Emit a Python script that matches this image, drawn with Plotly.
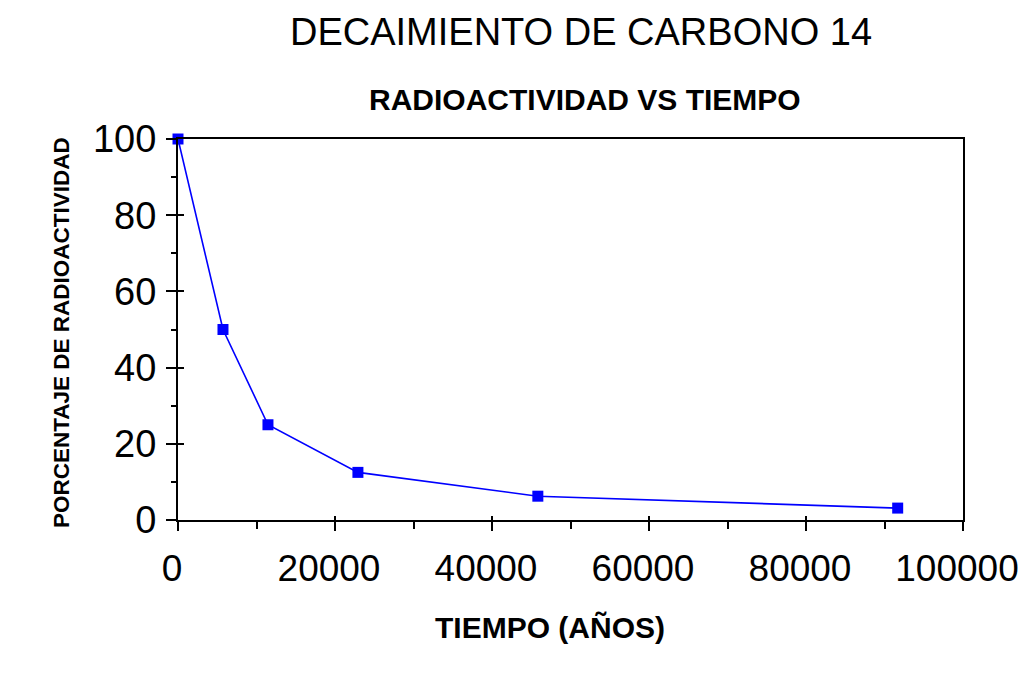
import plotly.graph_objects as go

tiempo = [0, 5730, 11460, 22920, 45840, 91680]
radioactividad = [100, 50, 25, 12.5, 6.25, 3.125]

x_ticks = [0, 20000, 40000, 60000, 80000, 100000]
y_ticks = [0, 20, 40, 60, 80, 100]

titulo = "DECAIMIENTO DE CARBONO 14"
subtitulo = "RADIOACTIVIDAD VS TIEMPO"
titulo_x = "TIEMPO (AÑOS)"
titulo_y = "PORCENTAJE DE RADIOACTIVIDAD"

FONT = "Liberation Sans, Arial, sans-serif"
BLUE = "#0000FF"

fig = go.Figure()
fig.add_trace(go.Scatter(
    x=tiempo, y=radioactividad, mode="lines+markers",
    line=dict(color=BLUE, width=1.6),
    marker=dict(symbol="square", size=11, color=BLUE),
    cliponaxis=False,
    showlegend=False, hoverinfo="x+y",
))
# empty trace so the overlay axes (inner half of crossing ticks) are drawn
fig.add_trace(go.Scatter(x=[], y=[], xaxis="x2", yaxis="y2", showlegend=False))

fig.update_layout(
    width=1024, height=698,
    margin=dict(l=178, r=61, t=139, b=178),
    paper_bgcolor="white", plot_bgcolor="white",
    font=dict(family=FONT, color="black"),
    title=dict(text=titulo, xref="container", yref="container",
               x=581/1024, y=1-32/698, xanchor="center", yanchor="middle",
               font=dict(size=38, family=FONT, color="black")),
    xaxis=dict(range=[0, 100000], tickvals=x_ticks, ticktext=[str(v) for v in x_ticks],
               automargin=False,
               showgrid=False, zeroline=False, showline=True, linecolor="black", linewidth=2,
               mirror=True, ticks="outside", ticklen=9, tickwidth=2, tickcolor="black",
               minor=dict(dtick=10000, ticks="outside", ticklen=7, tickwidth=2, tickcolor="black"),
               tickfont=dict(size=37, family=FONT, color="black"),
               ticklabelshift=-6, ticklabelstandoff=6),
    yaxis=dict(range=[0, 100], tickvals=y_ticks, automargin=False,
               showgrid=False, zeroline=False, showline=True, linecolor="black", linewidth=2,
               mirror=True, ticks="outside", ticklen=10, tickwidth=2, tickcolor="black",
               minor=dict(dtick=10, ticks="outside", ticklen=5, tickwidth=2, tickcolor="black"),
               tickfont=dict(size=38, family=FONT, color="black"),
               ticklabelstandoff=2),
    xaxis2=dict(range=[0, 100000], overlaying="x", anchor="y2", tickvals=x_ticks,
                automargin=False,
                showticklabels=False, showgrid=False, zeroline=False, showline=False,
                ticks="inside", ticklen=4, tickwidth=2, tickcolor="black"),
    yaxis2=dict(range=[0, 100], overlaying="y", anchor="x2", tickvals=y_ticks,
                automargin=False,
                showticklabels=False, showgrid=False, zeroline=False, showline=False,
                ticks="inside", ticklen=6, tickwidth=2, tickcolor="black"),
    annotations=[
        dict(text=subtitulo, xref="paper", yref="paper", x=(585-178)/785, y=(520-100)/381,
             showarrow=False, xanchor="center", yanchor="middle",
             font=dict(size=30, family=FONT, color="black", weight="bold")),
        dict(text=titulo_x, xref="paper", yref="paper", x=(550-178)/785, y=(520-627)/381,
             showarrow=False, xanchor="center", yanchor="middle",
             font=dict(size=30, family=FONT, color="black", weight="bold")),
        dict(text=titulo_y, xref="paper", yref="paper", x=(61-178)/785, y=(520-333)/381,
             showarrow=False, xanchor="center", yanchor="middle", textangle=-90,
             font=dict(size=22.5, family=FONT, color="black", weight="bold")),
    ],
)

fig.write_html("out.html")
